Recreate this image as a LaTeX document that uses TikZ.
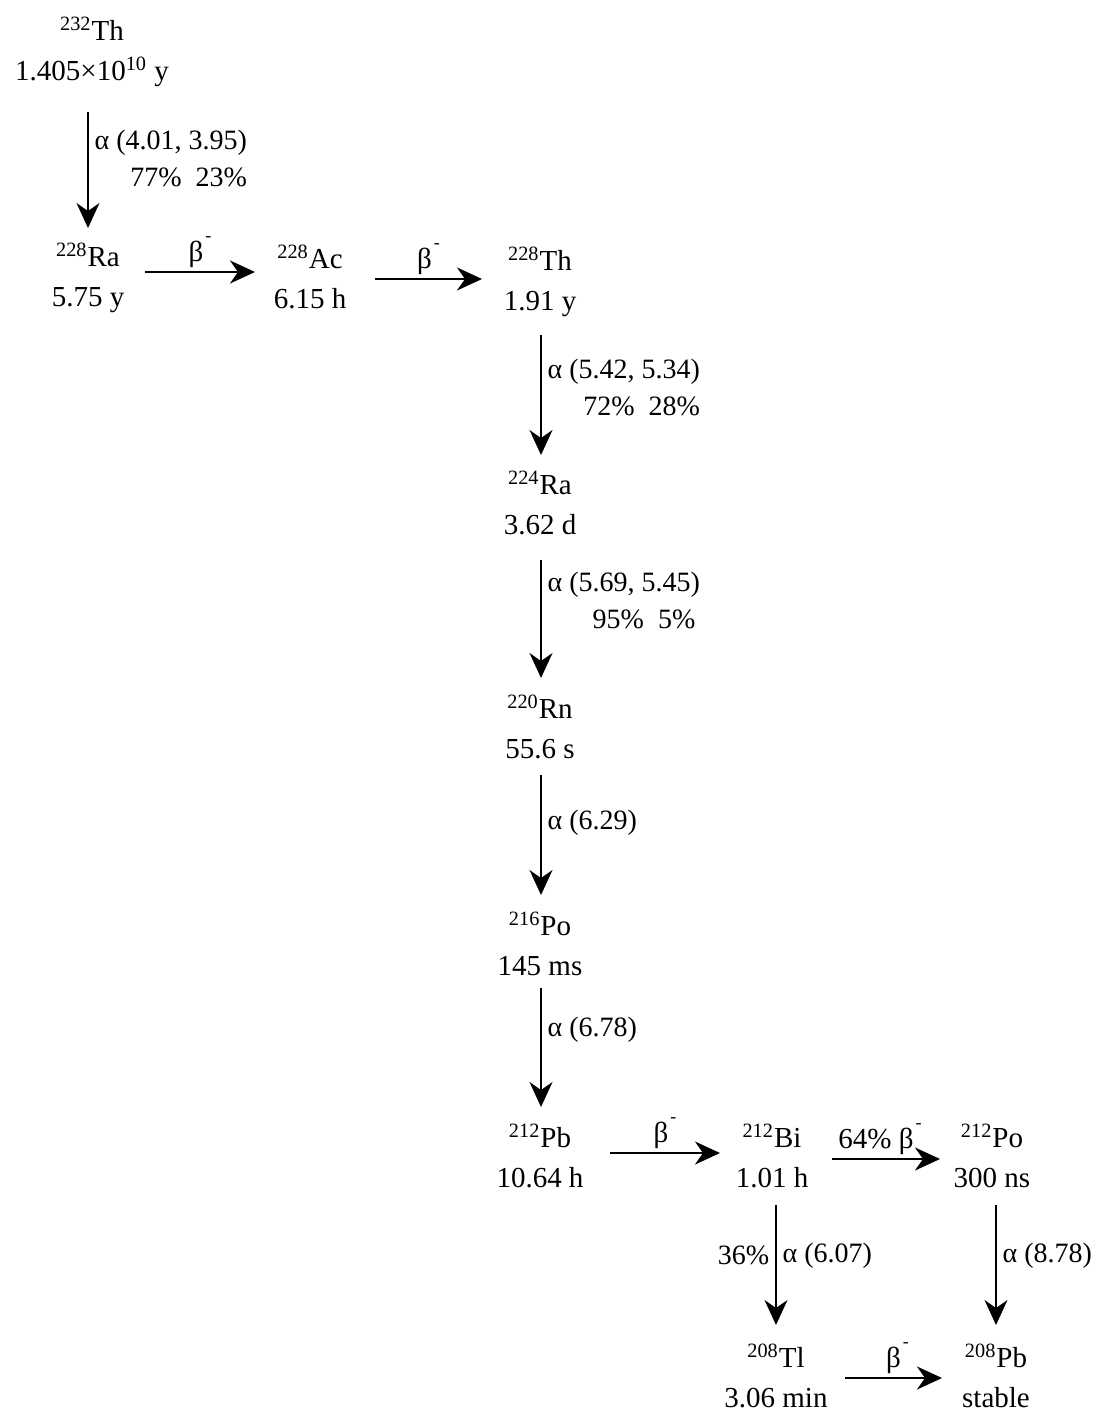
\documentclass[tikz,border=0pt]{standalone}
\usepackage{fontspec}
\setmainfont{Liberation Serif}
\usetikzlibrary{arrows.meta,calc}
\newcommand{\betam}{β\kern1pt\raisebox{0.7em}{\small -}}
\begin{document}
\begin{tikzpicture}[x=0.5pt,y=-0.5pt,
  iso/.style={align=center,inner sep=0pt,font=\fontsize{14.5}{20}\selectfont},
  lbl/.style={align=right,inner sep=3pt,font=\fontsize{14}{18.5}\selectfont},
  blbl/.style={inner sep=1.5pt,font=\fontsize{14.5}{18.5}\selectfont},
  decay/.style={-{Stealth[length=12.5pt,width=11.5pt,inset=4pt]},line width=0.7pt},
  hdecay/.style={decay,line width=1.2pt}]
\useasboundingbox (0,0) rectangle (1106,1414);

\node[iso] (th232) at (92,52)   {\textsuperscript{232}Th\\1.405×10\textsuperscript{10} y};
\node[iso] (ra228) at (88,278)  {\textsuperscript{228}Ra\\5.75 y};
\node[iso] (ac228) at (310,277) {\textsuperscript{228}Ac\\6.15 h};
\node[iso] (th228) at (540,282) {\textsuperscript{228}Th\\1.91 y};
\node[iso] (ra224) at (540,503) {\textsuperscript{224}Ra\\3.62 d};
\node[iso] (rn220) at (540,727) {\textsuperscript{220}Rn\\55.6 s};
\node[iso] (po216) at (540,944) {\textsuperscript{216}Po\\145 ms};
\node[iso] (pb212) at (540,1156) {\textsuperscript{212}Pb\\10.64 h};
\node[iso] (bi212) at (772,1156) {\textsuperscript{212}Bi\\1.01 h};
\node[iso] (po212) at (992,1156) {\textsuperscript{212}Po\\300 ns};
\node[iso] (tl208) at (776,1376) {\textsuperscript{208}Tl\\3.06 min};
\node[iso] (pb208) at (996,1376) {\textsuperscript{208}Pb\\stable};

\draw[decay] ($(th232)+(-4,60)$) -- ($(ra228)+(0,-50)$)
  node[lbl,right,pos=0.4] {α (4.01, 3.95)\\77\%\ \ 23\%};
\draw[hdecay] ($(ra228)+(57,-6)$) -- ($(ac228)+(-55,-5)$)
  node[blbl,above,midway] {\betam};
\draw[hdecay] ($(ac228)+(65,2)$) -- ($(th228)+(-58,-3)$)
  node[blbl,above,midway] {\betam};
\draw[decay] ($(th228)+(1,53)$) -- ($(ra224)+(1,-48)$)
  node[lbl,right,pos=0.44] {α (5.42, 5.34)\\72\%\ \ 28\%};
\draw[decay] ($(ra224)+(1,57)$) -- ($(rn220)+(1,-49)$)
  node[lbl,right,pos=0.34] {α (5.69, 5.45)\\95\%\ \ 5\%\,};
\draw[decay] ($(rn220)+(1,48)$) -- ($(po216)+(1,-49)$)
  node[lbl,right,pos=0.4] {α (6.29)};
\draw[decay] ($(po216)+(1,44)$) -- ($(pb212)+(1,-49)$)
  node[lbl,right,pos=0.35] {α (6.78)};
\draw[hdecay] ($(pb212)+(70,-3)$) -- ($(bi212)+(-52,-3)$)
  node[blbl,above,midway] {\betam};
\draw[hdecay] ($(bi212)+(60,3)$) -- ($(po212)+(-52,3)$)
  node[blbl,above,midway,xshift=-3pt] {64\% \betam};
\draw[decay] ($(bi212)+(4,49)$) -- ($(tl208)+(0,-51)$)
  node[lbl,right,pos=0.42] {α (6.07)}
  node[lbl,left,pos=0.42] {36\%};
\draw[decay] ($(po212)+(4,49)$) -- ($(pb208)+(0,-51)$)
  node[lbl,right,pos=0.42] {α (8.78)};
\draw[hdecay] ($(tl208)+(69,2)$) -- ($(pb208)+(-54,2)$)
  node[blbl,above,midway,xshift=2pt] {\betam};
\end{tikzpicture}
\end{document}
